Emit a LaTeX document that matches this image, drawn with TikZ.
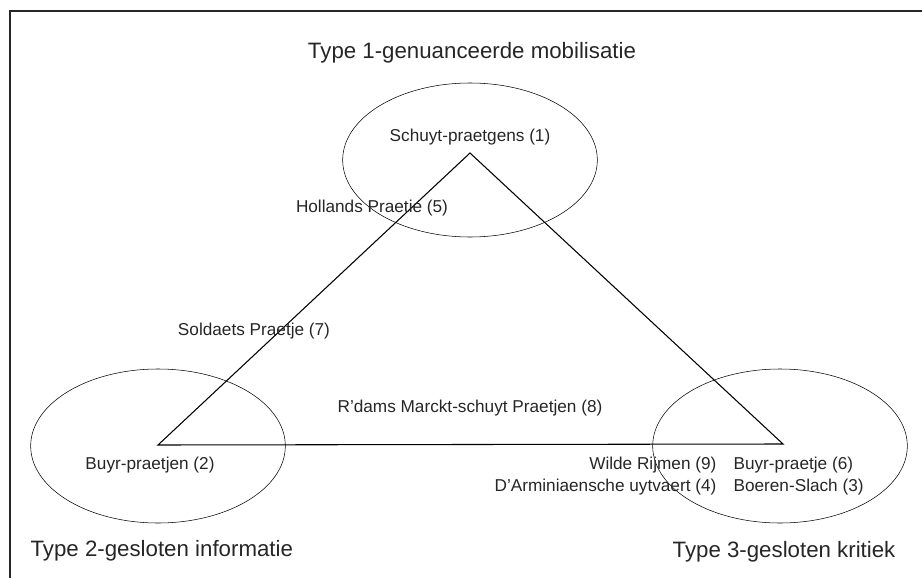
\documentclass[tikz,border=0pt]{standalone}
\usepackage{fontspec}
\setmainfont{Liberation Sans}
\usetikzlibrary{shapes.geometric}
\tikzstyle{zone} = [ellipse, draw=black, minimum width=191pt, minimum height=115.5pt, inner sep=0pt]
\tikzstyle{pamflet} = [inner sep=1pt, font=\fontsize{12.9}{15}\selectfont, text=black!85]
\tikzstyle{typelabel} = [inner sep=1pt, font=\fontsize{16.7}{20}\selectfont, text=black!85]
\tikzstyle{side} = [draw=black, line width=0.8pt]

\begin{document}
\begin{tikzpicture}[x=0.75pt, y=-0.75pt]
		\useasboundingbox (0,0) rectangle (922,578);
		\draw [line width=1.6pt, draw=black!85] (10,580) -- (10,11) -- (924,11);
		% drie typen
		\node (z1) [zone] at (470,160) {};
		\node (z2) [zone] at (158,446) {};
		\node (z3) [zone] at (780,446) {};
		\node (t1) [typelabel] at (472,53) {Type 1-genuanceerde mobilisatie};
		\node (t2) [typelabel, anchor=west] at (29,551) {Type 2-gesloten informatie};
		\node (t3) [typelabel, anchor=east] at (897,552) {Type 3-gesloten kritiek};
		% driehoek
		\coordinate (top) at (470,153);
		\coordinate (left) at (158,445);
		\coordinate (right) at (783,444);
		\draw [side] (top) -- (left) -- (right) -- cycle;
		% pamfletten
		\node (p1) [pamflet] at (470,137) {Schuyt-praetgens (1)};
		\node (p5) [pamflet] at (372,208) {Hollands Praetie (5)};
		\node (p7) [pamflet] at (254,331) {Soldaets Praetje (7)};
		\node (p8) [pamflet, anchor=west] at (336,408) {R’dams Marckt-schuyt Praetjen (8)};
		\node (p2) [pamflet] at (150,465) {Buyr-praetjen (2)};
		\node (p9) [pamflet, anchor=east] at (718,465) {Wilde Rijmen (9)};
		\node (p4) [pamflet, anchor=east] at (718,487) {D’Arminiaensche uytvaert (4)};
		\node (p6) [pamflet, anchor=west] at (732,465) {Buyr-praetje (6)};
		\node (p3) [pamflet, anchor=west] at (732,487) {Boeren-Slach (3)};
\end{tikzpicture}
\end{document}
